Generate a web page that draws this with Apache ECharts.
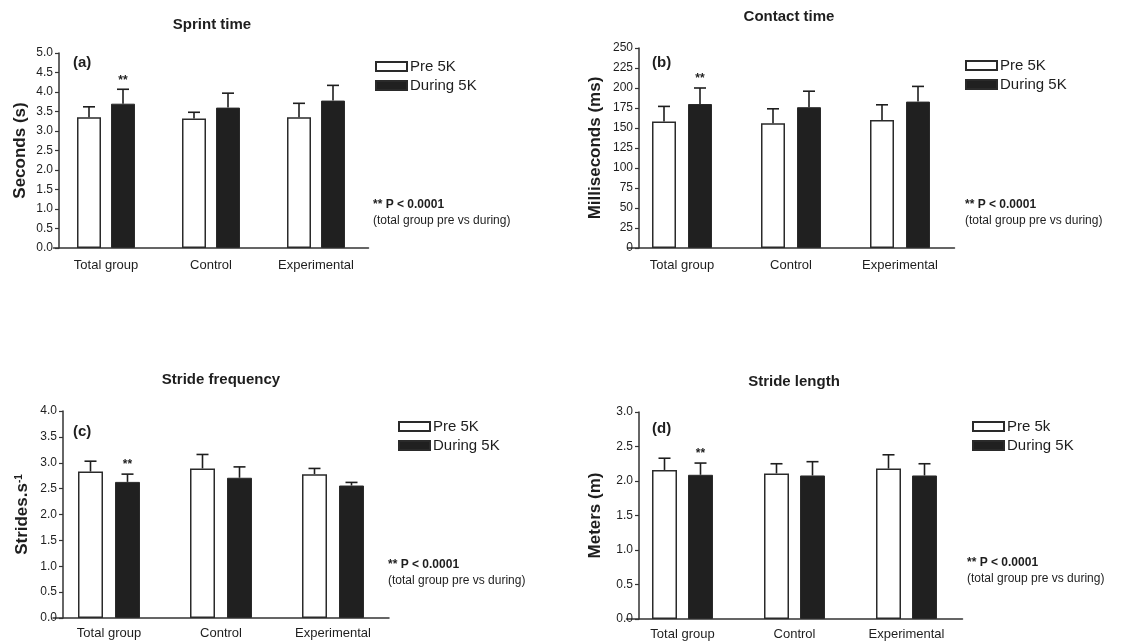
<!DOCTYPE html>
<html>
<head>
<meta charset="utf-8">
<script src="https://cdn.jsdelivr.net/npm/echarts@6/dist/echarts.min.js"></script>
<style>
  html, body { margin: 0; padding: 0; background: #fff; }
  #chart { width: 1139px; height: 641px; }
</style>
</head>
<body>
<div id="chart"></div>
<script>
// groups on the x axis
var categories = ['Total group', 'Control', 'Experimental'];
var sigMarks = ['**', '', ''];

// (a) sprint time, seconds
var sprintPre = [3.35, 3.32, 3.35];
var sprintPreSd = [0.27, 0.16, 0.36];
var sprintDuring = [3.70, 3.60, 3.78];
var sprintDuringSd = [0.37, 0.37, 0.39];

// (b) contact time, ms
var contactPre = [158, 156, 160];
var contactPreSd = [19, 18, 19];
var contactDuring = [180, 176, 183];
var contactDuringSd = [20, 20, 19];

// (c) stride frequency, strides/s
var freqPre = [2.83, 2.89, 2.78];
var freqPreSd = [0.20, 0.27, 0.11];
var freqDuring = [2.63, 2.71, 2.56];
var freqDuringSd = [0.15, 0.21, 0.06];

// (d) stride length, m
var lengthPre = [2.16, 2.11, 2.18];
var lengthPreSd = [0.17, 0.14, 0.20];
var lengthDuring = [2.09, 2.08, 2.08];
var lengthDuringSd = [0.17, 0.20, 0.17];

var FONT = 'Liberation Sans, Arial, Helvetica, sans-serif';
var INK = '#1e1e1e';

// panel layout: y axis position, first group centre, group spacing, plot top/bottom
var panels = [
    {axisX: 59,  c1: 106,   step: 105, top: 53,  bottom: 248, barW: 24, gap: 10,
     title: 'Sprint time', titleX: 212, titleY: 17, tag: '(a)', tagX: 73, tagY: 55,
     yName: 'Seconds (s)', nameGap: 30, max: 5, interval: 0.5, dec: 1,
     pre: sprintPre, preSd: sprintPreSd, during: sprintDuring, duringSd: sprintDuringSd,
     preName: 'Pre 5K', legX: 375, legY: 59, noteX: 373, noteY: 199, catGap: 11},
    {axisX: 639, c1: 682,   step: 109, top: 48,  bottom: 248, barW: 24, gap: 12,
     title: 'Contact time', titleX: 789, titleY: 9, tag: '(b)', tagX: 652, tagY: 55,
     yName: 'Milliseconds (ms)', nameGap: 35, max: 250, interval: 25, dec: 0,
     pre: contactPre, preSd: contactPreSd, during: contactDuring, duringSd: contactDuringSd,
     preName: 'Pre 5K', legX: 965, legY: 58, noteX: 965, noteY: 199, catGap: 11},
    {axisX: 63,  c1: 109,   step: 112, top: 411, bottom: 618, barW: 25, gap: 12,
     title: 'Stride frequency', titleX: 221, titleY: 372, tag: '(c)', tagX: 73, tagY: 424,
     yName: 'Strides.s{sup|-1}', nameGap: 32, max: 4, interval: 0.5, dec: 1,
     pre: freqPre, preSd: freqPreSd, during: freqDuring, duringSd: freqDuringSd,
     preName: 'Pre 5K', legX: 398, legY: 419, noteX: 388, noteY: 559, catGap: 9},
    {axisX: 639, c1: 682.5, step: 112, top: 412, bottom: 619, barW: 25, gap: 11,
     title: 'Stride length', titleX: 794, titleY: 374, tag: '(d)', tagX: 652, tagY: 421,
     yName: 'Meters (m)', nameGap: 35, max: 3, interval: 0.5, dec: 1,
     pre: lengthPre, preSd: lengthPreSd, during: lengthDuring, duringSd: lengthDuringSd,
     preName: 'Pre 5k', legX: 972, legY: 419, noteX: 967, noteY: 557, catGap: 9}
];

function errorSeries(gi, means, sds, shift, marks) {
    return {
        type: 'custom',
        xAxisIndex: gi,
        yAxisIndex: gi,
        z: 5,
        silent: true,
        data: means.map(function (m, i) { return [i, m, m + sds[i]]; }),
        renderItem: function (params, api) {
            var base = api.coord([api.value(0), api.value(1)]);
            var top = api.coord([api.value(0), api.value(2)]);
            var x = base[0] + shift;
            var ls = {stroke: INK, lineWidth: 1.6};
            var kids = [
                {type: 'line', shape: {x1: x, y1: base[1], x2: x, y2: top[1]}, style: ls},
                {type: 'line', shape: {x1: x - 6, y1: top[1], x2: x + 6, y2: top[1]}, style: ls}
            ];
            var mk = marks ? marks[params.dataIndex] : '';
            if (mk) {
                kids.push({type: 'text', style: {text: mk, x: x, y: top[1] - 3,
                    align: 'center', verticalAlign: 'bottom', fill: INK,
                    font: 'bold 12px ' + FONT}});
            }
            return {type: 'group', children: kids};
        }
    };
}

var grids = [], xAxes = [], yAxes = [], series = [], titles = [], legends = [];

panels.forEach(function (p, gi) {
    var left = p.c1 - p.step / 2;
    grids.push({left: left, top: p.top, width: p.step * 3, height: p.bottom - p.top});
    xAxes.push({
        gridIndex: gi, type: 'category', data: categories,
        axisLine: {lineStyle: {color: '#333', width: 1.5}},
        axisTick: {show: false},
        axisLabel: {color: INK, fontFamily: FONT, fontSize: 13, margin: p.catGap}
    });
    yAxes.push({
        gridIndex: gi, type: 'value', min: 0, max: p.max, interval: p.interval,
        offset: left - p.axisX,
        axisLine: {show: true, lineStyle: {color: '#333', width: 1.5}},
        axisTick: {show: true, length: 4, lineStyle: {color: '#333', width: 1.2}},
        splitLine: {show: false},
        axisLabel: {color: INK, fontFamily: FONT, fontSize: 12, margin: 6,
            formatter: function (v) { return v.toFixed(p.dec); }},
        name: p.yName, nameLocation: 'middle', nameGap: p.nameGap,
        nameTextStyle: {color: INK, fontFamily: FONT, fontSize: 17, fontWeight: 'bold',
            rich: {sup: {fontSize: 10, fontWeight: 'bold', verticalAlign: 'top', color: INK, fontFamily: FONT}}}
    });
    var half = (p.barW + p.gap) / 2;
    series.push({
        name: p.preName, type: 'bar', xAxisIndex: gi, yAxisIndex: gi,
        data: p.pre, barWidth: p.barW, barGap: (p.gap / p.barW * 100) + '%',
        itemStyle: {color: '#ffffff', borderColor: '#2a2a2a', borderWidth: 1.5}
    });
    series.push({
        name: 'During 5K', type: 'bar', xAxisIndex: gi, yAxisIndex: gi,
        data: p.during, barWidth: p.barW, barGap: (p.gap / p.barW * 100) + '%',
        itemStyle: {color: '#202020', borderColor: '#2a2a2a', borderWidth: 1}
    });
    series.push(errorSeries(gi, p.pre, p.preSd, -half, null));
    series.push(errorSeries(gi, p.during, p.duringSd, half, sigMarks));

    titles.push({text: p.title, left: p.titleX, top: p.titleY, textAlign: 'center', padding: 0,
        textStyle: {color: INK, fontFamily: FONT, fontSize: 15, fontWeight: 'bold'}});
    titles.push({text: p.tag, left: p.tagX, top: p.tagY, padding: 0,
        textStyle: {color: INK, fontFamily: FONT, fontSize: 15, fontWeight: 'bold'}});
    titles.push({text: '** P < 0.0001', subtext: '(total group pre vs during)',
        left: p.noteX, top: p.noteY, padding: 0, itemGap: 4,
        textStyle: {color: INK, fontFamily: FONT, fontSize: 12, fontWeight: 'bold'},
        subtextStyle: {color: INK, fontFamily: FONT, fontSize: 12}});
    legends.push({
        data: [p.preName, 'During 5K'], left: p.legX, top: p.legY, orient: 'vertical',
        icon: 'rect', itemWidth: 31, itemHeight: 9, itemGap: 4, padding: 0,
        selectedMode: false,
        textStyle: {color: INK, fontFamily: FONT, fontSize: 15, padding: [0, 0, 0, -2]}
    });
});

var chart = echarts.init(document.getElementById('chart'), null, {renderer: 'canvas'});
chart.setOption({
    backgroundColor: '#ffffff',
    animation: false,
    title: titles,
    legend: legends,
    grid: grids,
    xAxis: xAxes,
    yAxis: yAxes,
    series: series
});
</script>
</body>
</html>
